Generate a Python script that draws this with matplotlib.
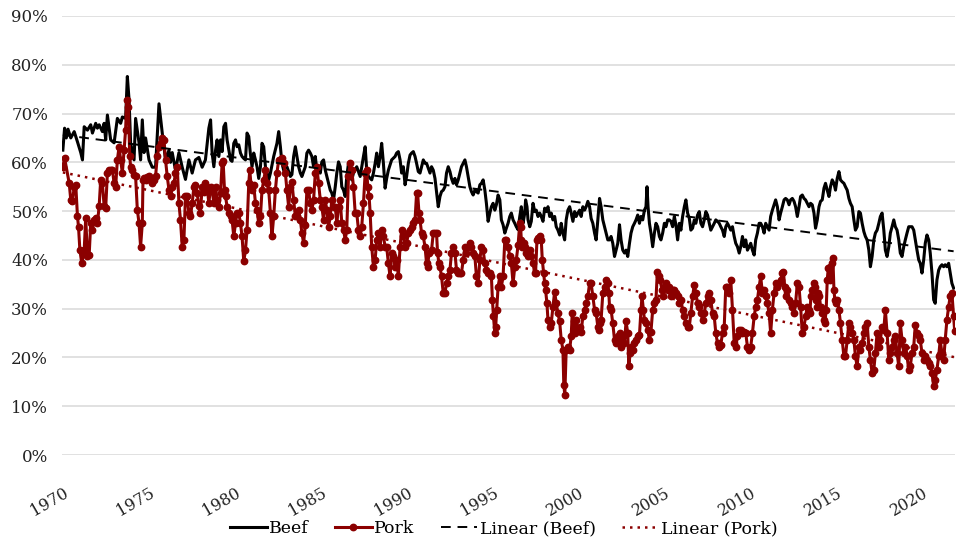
"""Beef vs pork monthly share, 1970-2021, with linear trends."""
import numpy as np
import matplotlib
matplotlib.use("Agg")
import matplotlib.pyplot as plt
from matplotlib.ticker import PercentFormatter

# --- data (decimal year, percent) ---
beef_year = [
    1970.00, 1970.10, 1970.20, 1970.30, 1970.46, 1970.66, 1970.85, 1971.04, 1971.14, 1971.24,
    1971.43, 1971.62, 1971.72, 1971.91, 1972.01, 1972.11, 1972.30, 1972.40, 1972.49, 1972.59,
    1972.78, 1972.98, 1973.17, 1973.36, 1973.46, 1973.65, 1973.75, 1973.85, 1973.94, 1974.14,
    1974.23, 1974.43, 1974.52, 1974.62, 1974.72, 1974.81, 1975.01, 1975.20, 1975.39, 1975.59,
    1975.78, 1975.97, 1976.17, 1976.26, 1976.36, 1976.55, 1976.75, 1976.94, 1977.13, 1977.33,
    1977.52, 1977.71, 1977.91, 1978.10, 1978.29, 1978.49,
    1978.59, 1978.68, 1978.78, 1978.88, 1978.97, 1979.07, 1979.17, 1979.26, 1979.36, 1979.46,
    1979.55, 1979.65, 1979.75, 1979.84, 1979.94, 1980.04, 1980.13, 1980.23, 1980.33, 1980.42,
    1980.52, 1980.62, 1980.71, 1980.81, 1980.90, 1981.00, 1981.10, 1981.20, 1981.29, 1981.39,
    1981.49, 1981.58, 1981.68, 1981.78, 1981.87, 1981.97, 1982.07, 1982.26, 1982.45, 1982.55,
    1982.65, 1982.74, 1982.84, 1982.94, 1983.03, 1983.23, 1983.32, 1983.42, 1983.52, 1983.61,
    1983.71, 1983.81, 1983.90, 1984.10, 1984.19, 1984.29, 1984.39, 1984.48, 1984.58, 1984.68,
    1984.77, 1984.87, 1984.97, 1985.06, 1985.16, 1985.26, 1985.35, 1985.45, 1985.55, 1985.64,
    1985.74, 1985.84, 1985.93, 1986.03, 1986.13, 1986.22, 1986.32, 1986.42, 1986.51, 1986.61,
    1986.71, 1986.80, 1986.90, 1987.09, 1987.29, 1987.48,
    1987.58, 1987.67, 1987.77, 1987.96, 1988.06, 1988.16, 1988.25, 1988.35, 1988.45, 1988.54,
    1988.64, 1988.74, 1988.83, 1988.93, 1989.12, 1989.32, 1989.41, 1989.51, 1989.61, 1989.70,
    1989.80, 1989.90, 1989.99, 1990.09, 1990.19, 1990.28, 1990.38, 1990.48, 1990.57, 1990.67,
    1990.77, 1990.86, 1990.96, 1991.06, 1991.15, 1991.25, 1991.35, 1991.44, 1991.54, 1991.64,
    1991.73, 1991.83, 1991.93, 1992.02, 1992.12, 1992.22, 1992.31, 1992.41, 1992.51, 1992.60,
    1992.70, 1992.80, 1992.89, 1992.99, 1993.09, 1993.18, 1993.38, 1993.47, 1993.57, 1993.67,
    1993.76, 1993.86, 1993.96, 1994.05, 1994.15, 1994.25, 1994.34, 1994.44, 1994.54, 1994.63,
    1994.73, 1994.83, 1994.92, 1995.02, 1995.12, 1995.21, 1995.31, 1995.41, 1995.50, 1995.60,
    1995.70, 1995.79, 1995.89, 1995.99, 1996.08, 1996.18, 1996.28, 1996.37, 1996.47,
    1996.57, 1996.66, 1996.76, 1996.86, 1996.91, 1996.99, 1997.05, 1997.15, 1997.24, 1997.34,
    1997.44, 1997.53, 1997.63, 1997.73, 1997.82, 1997.92, 1998.02, 1998.11, 1998.21, 1998.31,
    1998.40, 1998.50, 1998.60, 1998.69, 1998.79, 1998.89, 1998.98, 1999.08, 1999.18, 1999.27,
    1999.37, 1999.47, 1999.56, 1999.66, 1999.76, 1999.85, 1999.95, 2000.05, 2000.14, 2000.24,
    2000.34, 2000.43, 2000.53, 2000.63, 2000.72, 2000.82, 2000.92, 2001.01, 2001.11, 2001.21,
    2001.30, 2001.40, 2001.50, 2001.59, 2001.69, 2001.79, 2001.88, 2001.98, 2002.08, 2002.17,
    2002.27, 2002.37, 2002.46, 2002.56, 2002.66, 2002.75, 2002.85, 2002.95, 2003.04, 2003.14,
    2003.24, 2003.33, 2003.43, 2003.53, 2003.62, 2003.72, 2003.82, 2003.91, 2003.97, 2004.03,
    2004.11, 2004.20, 2004.30, 2004.40, 2004.49, 2004.59, 2004.69, 2004.78, 2004.88, 2004.98,
    2005.07, 2005.17, 2005.27, 2005.36, 2005.46,
    2005.56, 2005.65, 2005.75, 2005.85, 2005.94, 2006.04, 2006.14, 2006.23, 2006.33, 2006.43,
    2006.52, 2006.62, 2006.72, 2006.81, 2006.91, 2007.01, 2007.10, 2007.20, 2007.30, 2007.39,
    2007.49, 2007.59, 2007.68, 2007.78, 2007.88, 2007.97, 2008.07, 2008.17, 2008.26, 2008.36,
    2008.46, 2008.55, 2008.65, 2008.75, 2008.84, 2008.94, 2009.04, 2009.13, 2009.23, 2009.33,
    2009.42, 2009.52, 2009.62, 2009.71, 2009.81, 2009.91, 2010.00, 2010.10, 2010.20, 2010.29,
    2010.39, 2010.49, 2010.58, 2010.68, 2010.78, 2010.87, 2010.97, 2011.07, 2011.16, 2011.26,
    2011.36, 2011.45, 2011.55, 2011.65, 2011.74, 2011.84, 2011.94, 2012.03, 2012.13, 2012.23,
    2012.32, 2012.42, 2012.52, 2012.61, 2012.71, 2012.81, 2012.90, 2013.00, 2013.10, 2013.19,
    2013.29,
    2013.39, 2013.48, 2013.58, 2013.68, 2013.77, 2013.87, 2013.97, 2014.06, 2014.16, 2014.26,
    2014.35, 2014.45, 2014.55, 2014.64, 2014.74, 2014.84, 2014.93, 2015.03, 2015.13, 2015.22,
    2015.32, 2015.42, 2015.51, 2015.61, 2015.71, 2015.80, 2015.90, 2016.00, 2016.09, 2016.19,
    2016.29, 2016.38, 2016.48, 2016.58, 2016.67, 2016.77, 2016.87, 2016.96, 2017.06, 2017.16,
    2017.25, 2017.35, 2017.45, 2017.54, 2017.64, 2017.74, 2017.83, 2017.93, 2018.03, 2018.12,
    2018.22, 2018.32, 2018.41, 2018.51, 2018.61, 2018.70, 2018.80, 2018.90, 2018.99, 2019.09,
    2019.19, 2019.28, 2019.38, 2019.48, 2019.57, 2019.67, 2019.77, 2019.86, 2019.96, 2020.06,
    2020.15, 2020.25, 2020.35, 2020.44, 2020.54, 2020.64, 2020.73, 2020.83, 2020.93, 2021.02,
    2021.12, 2021.22, 2021.31, 2021.41, 2021.51, 2021.60, 2021.70, 2021.80,
]
beef_pct = [
    62.5, 67.0, 65.0, 66.8, 65.0, 66.3, 64.2, 62.0, 60.5, 67.3,
    66.6, 67.7, 66.0, 68.0, 67.0, 67.7, 66.3, 68.0, 64.6, 69.7,
    64.6, 64.0, 69.0, 68.0, 69.3, 69.0, 77.6, 72.8, 64.0, 60.5,
    69.0, 64.0, 60.5, 68.7, 62.0, 65.0, 60.5, 59.0, 59.0, 72.0,
    66.0, 60.5, 62.5, 60.0, 62.0, 58.4, 62.0, 59.0, 56.5, 60.5,
    57.8, 60.5, 61.0, 59.0, 60.5, 67.0,
    68.7, 61.9, 59.1, 62.5, 64.6, 61.2, 64.6, 62.2, 67.3, 68.0,
    64.6, 62.5, 60.5, 60.2, 63.9, 64.6, 63.2, 63.6, 61.9, 61.2,
    60.8, 60.5, 66.0, 65.3, 61.9, 59.1, 61.9, 60.5, 59.1, 56.7,
    59.1, 63.9, 63.2, 59.1, 57.8, 56.4, 57.8, 61.2, 63.9, 66.3,
    63.2, 59.8, 58.4, 59.1, 59.1, 57.1, 57.5, 61.2, 63.2, 61.2,
    59.1, 57.8, 57.1, 59.1, 61.9, 62.5, 61.9, 61.2, 59.1, 61.2,
    58.4, 59.1, 57.8, 60.1, 60.5, 58.4, 57.1, 55.7, 54.3, 53.7,
    52.3, 55.0, 57.8, 60.1, 59.1, 55.0, 54.3, 53.0, 57.1, 59.8,
    58.4, 56.4, 57.8, 59.1, 57.1, 61.2,
    63.2, 58.4, 57.1, 56.4, 57.8, 59.8, 61.9, 59.1, 61.2, 63.9,
    59.8, 54.7, 56.7, 58.4, 60.5, 61.2, 61.9, 62.2, 60.5, 57.8,
    59.1, 55.4, 57.1, 59.8, 61.5, 61.9, 62.2, 61.2, 59.8, 58.1,
    57.8, 59.1, 60.5, 59.8, 59.8, 58.8, 57.8, 59.1, 58.4, 56.7,
    54.0, 50.9, 53.0, 54.0, 54.3, 55.0, 57.8, 59.1, 58.1, 56.7,
    55.7, 56.7, 55.4, 56.4, 57.8, 59.1, 60.5, 59.1, 57.1, 55.0,
    54.0, 53.3, 54.3, 54.0, 53.7, 55.4, 55.7, 56.4, 54.3, 51.6,
    47.9, 49.6, 50.9, 51.6, 50.2, 51.3, 53.3, 52.3, 48.2, 47.2,
    45.5, 46.5, 47.5, 48.9, 49.6, 48.2, 47.5, 46.8, 46.2,
    48.9, 50.9, 47.5, 49.6, 52.3, 50.9, 48.2, 46.8, 47.9, 51.6,
    49.9, 50.2, 48.9, 49.6, 48.9, 47.9, 50.6, 49.9, 50.9, 48.9,
    49.6, 48.2, 48.9, 46.8, 46.1, 45.1, 47.5, 45.5, 44.1, 48.2,
    50.2, 50.9, 49.6, 47.9, 49.9, 48.9, 49.6, 50.2, 48.9, 50.9,
    50.2, 50.9, 52.0, 50.9, 48.5, 47.5, 45.5, 44.1, 48.2, 52.6,
    50.9, 48.2, 46.8, 45.5, 44.1, 44.1, 44.8, 43.4, 40.7, 42.0,
    43.4, 47.2, 44.1, 42.0, 41.4, 42.0, 40.7, 43.4, 45.5, 46.8,
    47.5, 48.2, 49.2, 47.5, 48.9, 48.2, 50.2, 50.9, 55.0, 50.9,
    47.5, 45.5, 42.7, 45.5, 47.5, 46.8, 44.8, 44.1, 45.5, 47.5,
    46.8, 48.2, 48.2, 47.9, 46.8,
    48.9, 47.2, 44.1, 47.5, 46.1, 48.9, 50.9, 52.3, 49.6, 48.5,
    46.1, 46.5, 48.2, 47.5, 49.2, 49.9, 47.5, 46.8, 48.2, 49.9,
    49.2, 47.5, 46.1, 46.8, 47.5, 48.2, 47.9, 47.5, 46.8, 46.1,
    44.8, 46.8, 47.5, 46.8, 46.1, 46.8, 44.8, 43.4, 42.7, 41.4,
    42.7, 44.8, 42.7, 44.1, 42.0, 42.7, 43.4, 42.0, 41.0, 44.1,
    45.5, 47.5, 47.5, 46.8, 45.5, 47.5, 46.8, 46.1, 48.9, 50.2,
    51.3, 52.3, 50.9, 48.2, 49.6, 50.9, 52.3, 52.6, 52.3, 51.3,
    52.3, 52.6, 52.0, 50.9, 48.9, 50.9, 53.0, 53.3, 52.6, 52.3,
    51.6,
    50.9, 51.6, 51.3, 49.6, 46.5, 48.2, 50.9, 52.0, 52.3, 54.7,
    55.7, 54.3, 53.0, 55.0, 56.4, 55.7, 54.3, 56.7, 58.1, 56.4,
    56.0, 55.7, 55.0, 54.3, 52.6, 51.6, 50.9, 48.2, 46.1, 46.8,
    49.9, 49.6, 47.5, 45.8, 44.8, 44.1, 42.0, 38.6, 40.7, 44.1,
    45.5, 46.1, 47.5, 48.9, 49.6, 46.1, 42.0, 40.7, 42.7, 45.5,
    46.8, 48.2, 46.8, 46.1, 44.1, 41.4, 40.7, 42.7, 44.1, 45.5,
    46.8, 46.8, 46.8, 46.1, 44.1, 42.0, 40.0, 39.3, 37.3, 40.0,
    43.4, 45.1, 44.1, 41.4, 37.3, 31.8, 31.1, 35.9, 37.9, 38.6,
    39.0, 38.6, 39.0, 38.6, 39.3, 37.3, 35.2, 34.2,
]

pork_year = [
    1970.00, 1970.10, 1970.37, 1970.46, 1970.56, 1970.66, 1970.75, 1970.85, 1970.91, 1970.99,
    1971.10, 1971.24, 1971.33, 1971.43, 1971.53, 1971.62, 1971.72, 1971.82, 1971.91, 1972.01,
    1972.11, 1972.20, 1972.30, 1972.40, 1972.49, 1972.59, 1972.69, 1972.78, 1972.88, 1972.98,
    1973.07, 1973.17, 1973.27, 1973.36, 1973.46, 1973.56, 1973.65, 1973.71, 1973.81, 1973.89,
    1973.94, 1974.04, 1974.14, 1974.23, 1974.33, 1974.43, 1974.52, 1974.62, 1974.66, 1974.72,
    1974.81, 1974.91, 1975.01, 1975.10, 1975.20, 1975.30, 1975.39, 1975.49, 1975.59, 1975.68,
    1975.78, 1975.88, 1975.97, 1976.07, 1976.17, 1976.26, 1976.36, 1976.46, 1976.55, 1976.65,
    1976.75, 1976.84, 1976.94, 1977.04, 1977.13, 1977.23, 1977.33, 1977.42, 1977.52, 1977.62,
    1977.71, 1977.81, 1977.91, 1978.00, 1978.10, 1978.20, 1978.29, 1978.39, 1978.49,
    1978.59, 1978.68, 1978.78, 1978.88, 1978.97, 1979.07, 1979.17, 1979.26, 1979.32, 1979.40,
    1979.46, 1979.55, 1979.65, 1979.75, 1979.84, 1979.94, 1980.04, 1980.13, 1980.23, 1980.33,
    1980.42, 1980.52, 1980.62, 1980.71, 1980.81, 1980.87, 1980.94, 1981.00, 1981.10, 1981.20,
    1981.29, 1981.39, 1981.49, 1981.58, 1981.68, 1981.78, 1981.87, 1981.97, 1982.07, 1982.16,
    1982.26, 1982.36, 1982.45, 1982.55, 1982.65, 1982.74, 1982.84, 1982.94, 1983.03, 1983.13,
    1983.23, 1983.32, 1983.42, 1983.52, 1983.61, 1983.71, 1983.81, 1983.90, 1984.00, 1984.10,
    1984.19, 1984.29, 1984.39, 1984.48, 1984.58, 1984.68, 1984.77, 1984.87, 1984.97, 1985.06,
    1985.16, 1985.26, 1985.35, 1985.45, 1985.55, 1985.64, 1985.74, 1985.84, 1985.93, 1986.03,
    1986.13, 1986.22, 1986.32, 1986.42, 1986.51, 1986.61, 1986.71, 1986.80, 1986.90, 1987.00,
    1987.09, 1987.19, 1987.29, 1987.38, 1987.48,
    1987.58, 1987.67, 1987.73, 1987.81, 1987.87, 1987.96, 1988.06, 1988.16, 1988.25, 1988.35,
    1988.45, 1988.54, 1988.64, 1988.74, 1988.83, 1988.93, 1989.03, 1989.12, 1989.22, 1989.32,
    1989.41, 1989.51, 1989.61, 1989.70, 1989.80, 1989.90, 1989.99, 1990.09, 1990.19, 1990.28,
    1990.38, 1990.48, 1990.57, 1990.63, 1990.71, 1990.77, 1990.86, 1990.96, 1991.06, 1991.15,
    1991.21, 1991.29, 1991.44, 1991.54, 1991.64, 1991.73, 1991.79, 1991.87, 1991.93, 1992.02,
    1992.12, 1992.22, 1992.31, 1992.41, 1992.51, 1992.60, 1992.70, 1992.80, 1992.89, 1992.99,
    1993.09, 1993.18, 1993.28, 1993.38, 1993.47, 1993.57, 1993.67, 1993.76, 1993.86, 1993.96,
    1994.05, 1994.15, 1994.25, 1994.34, 1994.44, 1994.54, 1994.63, 1994.73, 1994.83, 1994.92,
    1994.98, 1995.04, 1995.12, 1995.17, 1995.23, 1995.31, 1995.41, 1995.50, 1995.60, 1995.70,
    1995.79, 1995.89, 1995.99, 1996.08, 1996.18, 1996.28, 1996.37, 1996.47,
    1996.57, 1996.62, 1996.66, 1996.72, 1996.80, 1996.86, 1996.91, 1996.99, 1997.05, 1997.15,
    1997.24, 1997.34, 1997.44, 1997.49, 1997.57, 1997.63, 1997.73, 1997.82, 1997.88, 1997.96,
    1998.02, 1998.07, 1998.15, 1998.21, 1998.31, 1998.40, 1998.50, 1998.60, 1998.69, 1998.79,
    1998.89, 1998.98, 1999.08, 1999.13, 1999.19, 1999.27, 1999.37, 1999.47, 1999.56, 1999.62,
    1999.70, 1999.76, 1999.85, 1999.95, 2000.05, 2000.14, 2000.24, 2000.34, 2000.43, 2000.53,
    2000.63, 2000.72, 2000.82, 2000.92, 2001.01, 2001.11, 2001.17, 2001.24, 2001.30, 2001.40,
    2001.50, 2001.59, 2001.69, 2001.75, 2001.79, 2001.88, 2001.98, 2002.08, 2002.17, 2002.27,
    2002.37, 2002.46, 2002.56, 2002.66, 2002.75, 2002.85, 2002.91, 2002.99, 2003.04, 2003.14,
    2003.24, 2003.33, 2003.43, 2003.53, 2003.62, 2003.68, 2003.76, 2003.82, 2003.91, 2004.01,
    2004.11, 2004.20, 2004.30, 2004.40, 2004.49, 2004.57, 2004.65, 2004.73, 2004.84, 2004.92,
    2004.98, 2005.07, 2005.17, 2005.27, 2005.36, 2005.46,
    2005.56, 2005.65, 2005.75, 2005.85, 2005.94, 2006.04, 2006.14, 2006.23, 2006.33, 2006.43,
    2006.52, 2006.62, 2006.72, 2006.81, 2006.91, 2007.01, 2007.10, 2007.20, 2007.30, 2007.39,
    2007.49, 2007.59, 2007.68, 2007.78, 2007.88, 2007.97, 2008.07, 2008.17, 2008.26, 2008.36,
    2008.46, 2008.55, 2008.65, 2008.75, 2008.84, 2008.94, 2009.04, 2009.13, 2009.23, 2009.33,
    2009.42, 2009.52, 2009.62, 2009.71, 2009.81, 2009.91, 2010.00, 2010.10, 2010.20, 2010.29,
    2010.39, 2010.49, 2010.58, 2010.68, 2010.78, 2010.87, 2010.97, 2011.07, 2011.16, 2011.26,
    2011.36, 2011.45, 2011.55, 2011.65, 2011.74, 2011.84, 2011.90, 2011.98, 2012.03, 2012.13,
    2012.23, 2012.32, 2012.42, 2012.52, 2012.61, 2012.71, 2012.81, 2012.90, 2013.00, 2013.10,
    2013.19, 2013.29,
    2013.39, 2013.44, 2013.50, 2013.58, 2013.68, 2013.73, 2013.81, 2013.87, 2013.93, 2014.00,
    2014.06, 2014.16, 2014.26, 2014.31, 2014.39, 2014.45, 2014.51, 2014.59, 2014.64, 2014.70,
    2014.78, 2014.84, 2014.89, 2014.97, 2015.03, 2015.13, 2015.22, 2015.32, 2015.42, 2015.51,
    2015.61, 2015.71, 2015.80, 2015.90, 2016.00, 2016.09, 2016.19, 2016.29, 2016.38, 2016.48,
    2016.58, 2016.67, 2016.77, 2016.87, 2016.96, 2017.06, 2017.16, 2017.25, 2017.35, 2017.45,
    2017.54, 2017.64, 2017.74, 2017.83, 2017.93, 2018.03, 2018.12, 2018.22, 2018.32, 2018.41,
    2018.51, 2018.61, 2018.70, 2018.80, 2018.90, 2018.99, 2019.09, 2019.19, 2019.28, 2019.38,
    2019.48, 2019.57, 2019.67, 2019.77, 2019.86, 2019.96, 2020.06, 2020.15, 2020.25, 2020.35,
    2020.44, 2020.54, 2020.64, 2020.73, 2020.83, 2020.93, 2021.02, 2021.12, 2021.22, 2021.31,
    2021.41, 2021.51, 2021.60, 2021.70, 2021.80, 2021.86,
]
pork_pct = [
    59.1, 60.9, 55.7, 52.3, 52.0, 55.0, 55.4, 48.9, 46.8, 42.0,
    39.3, 42.0, 48.6, 40.7, 41.0, 47.5, 46.2, 48.2, 48.6, 47.5,
    51.0, 56.4, 55.7, 51.0, 50.6, 57.8, 58.5, 58.5, 58.5, 55.7,
    55.0, 60.5, 63.2, 60.5, 57.8, 62.6, 66.7, 72.8, 71.4, 61.2,
    59.1, 58.5, 57.4, 57.1, 50.3, 47.5, 42.7, 47.5, 56.4, 56.7,
    56.4, 57.0, 57.1, 56.4, 55.7, 56.4, 57.1, 61.2, 63.2, 63.9,
    65.0, 64.6, 60.5, 57.1, 54.4, 53.0, 55.0, 55.7, 57.8, 59.1,
    51.6, 48.2, 42.7, 44.1, 53.0, 53.0, 49.6, 48.9, 51.6, 55.0,
    55.4, 53.7, 51.0, 49.6, 55.0, 54.0, 55.7, 55.0, 51.6,
    55.0, 54.3, 51.6, 55.0, 52.3, 50.9, 53.7, 59.8, 60.2, 54.3,
    53.0, 50.9, 49.6, 48.9, 48.2, 44.8, 47.5, 49.6, 49.6, 47.5,
    44.8, 39.7, 42.0, 46.2, 55.7, 58.4, 55.4, 54.3, 55.4, 51.6,
    50.2, 47.5, 48.9, 54.3, 56.4, 58.4, 55.7, 54.3, 49.6, 44.8,
    48.9, 54.3, 57.8, 60.5, 60.5, 60.8, 59.8, 57.8, 54.3, 50.9,
    55.0, 56.0, 52.3, 48.9, 48.9, 50.2, 48.2, 45.5, 43.4, 47.2,
    54.3, 54.3, 51.6, 50.2, 52.3, 57.8, 59.1, 55.7, 52.3, 50.9,
    48.2, 52.3, 50.2, 46.8, 48.9, 52.3, 50.9, 50.9, 47.5, 50.9,
    52.3, 47.5, 46.2, 44.1, 46.2, 57.1, 59.8, 58.4, 55.0, 49.6,
    49.6, 46.2, 44.8, 46.8, 51.6,
    57.8, 58.4, 55.0, 53.0, 49.6, 42.7, 38.6, 40.0, 44.1, 45.5,
    42.7, 46.2, 44.8, 42.7, 42.7, 39.3, 36.6, 41.4, 40.7, 38.6,
    40.0, 36.6, 42.7, 46.2, 44.8, 42.7, 43.4, 45.5, 46.2, 46.8,
    47.5, 48.2, 53.7, 53.7, 49.6, 48.2, 45.5, 44.8, 42.7, 39.3,
    38.6, 41.4, 42.0, 45.5, 45.5, 45.5, 41.4, 39.3, 38.6, 36.6,
    33.2, 33.2, 35.2, 36.6, 38.0, 41.4, 42.7, 41.4, 38.0, 37.3,
    37.3, 37.3, 40.0, 42.7, 41.4, 42.7, 43.4, 42.7, 41.4, 40.7,
    36.6, 35.2, 40.0, 42.7, 42.0, 39.3, 38.0, 37.3, 37.3, 36.6,
    31.8, 28.4, 25.0, 26.3, 29.8, 34.5, 36.6, 34.5, 36.6, 44.1,
    44.1, 42.7, 40.7, 39.3, 35.2, 38.6, 40.0, 43.0,
    47.5, 46.8, 44.1, 42.7, 43.4, 42.7, 41.4, 42.0, 40.7, 42.0,
    40.7, 39.3, 37.3, 37.3, 44.1, 44.4, 44.8, 44.1, 40.0, 37.3,
    35.2, 33.9, 31.1, 27.7, 26.3, 27.0, 30.4, 33.5, 31.1, 29.1,
    27.4, 23.6, 21.6, 14.4, 12.3, 21.6, 22.2, 21.6, 24.3, 29.1,
    27.4, 25.0, 27.7, 25.7, 26.3, 25.3, 28.4, 29.8, 31.1, 32.5,
    35.2, 35.2, 32.5, 29.8, 29.1, 26.3, 25.7, 27.0, 27.7, 33.2,
    34.5, 35.9, 35.2, 33.2, 30.4, 29.8, 27.0, 23.6, 22.9, 24.3,
    25.0, 22.2, 24.3, 22.9, 27.4, 25.0, 18.2, 20.9, 22.2, 21.6,
    22.9, 23.6, 24.3, 24.6, 29.8, 32.5, 29.8, 27.7, 27.0, 25.7,
    23.6, 25.3, 29.8, 31.1, 31.8, 37.6, 36.6, 35.9, 33.9, 32.5,
    34.5, 35.2, 33.9, 34.5, 32.5, 33.9,
    33.9, 33.2, 32.5, 31.1, 31.8, 29.8, 28.4, 27.0, 26.3, 26.3,
    29.1, 32.5, 34.9, 33.2, 31.1, 30.4, 29.1, 27.7, 29.1, 31.1,
    32.5, 33.2, 31.8, 29.1, 28.4, 25.0, 22.9, 22.2, 22.6, 25.0,
    26.3, 34.5, 34.5, 33.2, 35.9, 29.8, 22.9, 22.2, 24.3, 25.7,
    25.7, 25.0, 25.3, 25.0, 22.2, 21.6, 22.2, 25.0, 28.4, 30.4,
    31.8, 34.5, 36.6, 33.2, 33.9, 32.5, 31.1, 29.1, 25.0, 29.8,
    33.2, 35.2, 34.5, 35.2, 35.9, 37.3, 37.6, 34.5, 32.5, 33.9,
    31.8, 31.1, 30.4, 29.1, 31.1, 35.2, 34.5, 30.4, 25.0, 26.3,
    28.4, 30.4,
    29.8, 29.1, 32.5, 33.9, 35.2, 34.5, 31.8, 30.4, 33.2, 32.5,
    30.4, 29.1, 27.7, 27.0, 29.8, 35.9, 38.3, 38.6, 35.9, 39.3,
    40.3, 33.9, 31.8, 31.1, 31.8, 29.8, 27.0, 23.6, 20.2, 20.2,
    23.6, 27.0, 26.3, 25.0, 23.6, 20.2, 18.2, 22.2, 21.6, 22.9,
    25.0, 26.3, 27.0, 22.2, 19.5, 16.8, 17.5, 20.9, 25.0, 22.2,
    23.6, 26.3, 25.7, 29.8, 25.0, 19.5, 20.9, 22.2, 23.6, 24.3,
    20.9, 18.2, 27.0, 23.6, 20.9, 22.2, 20.2, 17.5, 18.2, 20.9,
    22.2, 26.7, 25.0, 24.3, 23.6, 20.9, 19.5, 20.2, 19.5, 18.8,
    18.2, 16.8, 14.1, 15.4, 17.5, 20.2, 23.6, 20.9, 19.5, 23.6,
    27.7, 30.4, 32.5, 33.2, 28.4, 25.5,
]

year_ticks = list(range(1970, 2021, 5))
pct_ticks = list(range(0, 91, 10))

BEEF_COLOR = "black"
PORK_COLOR = "#8b0000"

plt.rcParams["font.family"] = ["DejaVu Serif"]

fig = plt.figure(figsize=(9.56, 5.42), dpi=100)
ax = fig.add_axes([62 / 956, 87 / 542, 893 / 956, 439 / 542])

bx = np.array(beef_year)
by = np.array(beef_pct)
px = np.array(pork_year)
py = np.array(pork_pct)

ax.plot(bx, by, color=BEEF_COLOR, lw=2.2, label="Beef", zorder=3)
ax.plot(px, py, color=PORK_COLOR, lw=2.2, marker="o", ms=4.6,
        label="Pork", zorder=4)

# linear trends fitted on the series
for x, y, col, ls, lw, lab in [
        (bx, by, BEEF_COLOR, (0, (5, 3.5)), 1.4, "Linear (Beef)"),
        (px, py, PORK_COLOR, (0, (1, 2.0)), 1.8, "Linear (Pork)")]:
    k, b = np.polyfit(x, y, 1)
    xs = np.array([x.min(), x.max()])
    ax.plot(xs, k * xs + b, color=col, lw=lw, ls=ls, label=lab, zorder=5)

ax.set_xlim(1969.95, 2021.88)
ax.set_ylim(0, 90)
ax.set_yticks(pct_ticks)
ax.yaxis.set_major_formatter(PercentFormatter(xmax=100, decimals=0))
ax.set_xticks(year_ticks)
ax.set_xticklabels([str(y) for y in year_ticks], rotation=30,
                   ha="right", va="top", rotation_mode="anchor", fontsize=11.5)

ax.tick_params(axis="both", length=0, colors="#222222")
ax.tick_params(axis="y", labelsize=12, pad=10)
ax.tick_params(axis="x", pad=21)
ax.grid(axis="y", color="#d9d9d9", lw=1.1)
ax.set_axisbelow(True)
for s in ax.spines.values():
    s.set_visible(False)

fig.legend(loc="lower center", bbox_to_anchor=(0.527, -0.02), ncol=4,
           frameon=False, fontsize=12.5, handlelength=2.1,
           handletextpad=0.15, columnspacing=1.5)

fig.savefig("out.png", dpi=100)
